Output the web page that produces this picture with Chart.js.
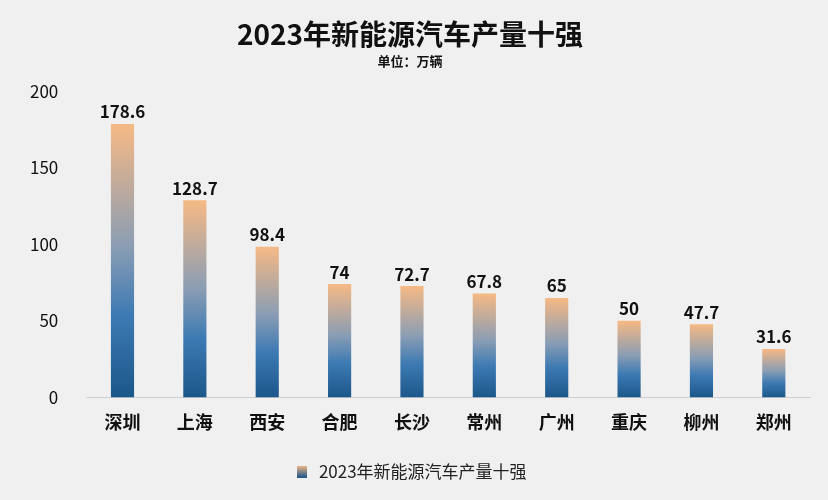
<!DOCTYPE html>
<html lang="zh">
<head>
<meta charset="UTF-8">
<script src="https://cdn.jsdelivr.net/npm/chart.js"></script>
<style>
    body { margin: 0; background: #f0f0f0; }
</style>
</head>
<body>
<canvas id="c" width="828" height="500"></canvas>
<script>
    const cities = ['深圳', '上海', '西安', '合肥', '长沙', '常州', '广州', '重庆', '柳州', '郑州'];
    const output = [178.6, 128.7, 98.4, 74, 72.7, 67.8, 65, 50, 47.7, 31.6];
    const FONT = '"Noto Sans CJK SC", "Noto Sans", sans-serif';

    // vertical gradient per bar, from its own top to its base
    function barGrad(ctx) {
        const el = ctx.chart.getDatasetMeta(0).data[ctx.dataIndex];
        if (!el || el.y === undefined || isNaN(el.y) || isNaN(el.base)) return '#5b8ab8';
        const g = ctx.chart.ctx.createLinearGradient(0, el.y, 0, el.base);
        g.addColorStop(0, '#f6b984');
        g.addColorStop(0.45, '#8a9db4');
        g.addColorStop(0.7, '#3d7ab3');
        g.addColorStop(1, '#1c578a');
        return g;
    }

    const labelPlugin = {
        id: 'labels',
        afterDatasetsDraw(chart) {
            const c = chart.ctx;
            c.save();
            c.font = 'bold 17px ' + FONT;
            c.fillStyle = '#111';
            c.textAlign = 'center';
            chart.getDatasetMeta(0).data.forEach((el, i) => {
                c.fillText(output[i], el.x, el.y - 12);
            });
            c.restore();
        }
    };

    const legendBox = document.createElement('canvas');
    legendBox.width = 10; legendBox.height = 12;
    const lc = legendBox.getContext('2d');
    const lg = lc.createLinearGradient(0, 0, 0, 12);
    lg.addColorStop(0, '#f6b984'); lg.addColorStop(1, '#1c578a');
    lc.fillStyle = lg; lc.fillRect(0, 0, 10, 12);

    const chart = new Chart(document.getElementById('c'), {
        type: 'bar',
        data: {
            labels: cities,
            datasets: [{
                label: '2023年新能源汽车产量十强',
                data: output,
                backgroundColor: barGrad,
                barPercentage: 0.32,
                categoryPercentage: 1
            }]
        },
        options: {
            responsive: false,
            animation: false,
            devicePixelRatio: 1,
            layout: { padding: { left: 10, right: 18, top: 10, bottom: 10 } },
            plugins: {
                title: {
                    display: true,
                    text: '2023年新能源汽车产量十强',
                    color: '#111',
                    font: { family: FONT, size: 28, weight: 'bold' },
                    padding: { top: 8, bottom: 2 }
                },
                subtitle: {
                    display: true,
                    text: '单位：万辆',
                    color: '#111',
                    font: { family: FONT, size: 13, weight: 'bold' },
                    padding: { bottom: 22 }
                },
                legend: {
                    position: 'bottom',
                    labels: {
                        usePointStyle: true,
                        pointStyle: legendBox,
                        color: '#222',
                        font: { family: FONT, size: 17 },
                        padding: 24
                    }
                },
                tooltip: { enabled: false }
            },
            scales: {
                x: {
                    grid: { display: false },
                    border: { color: '#cfcfcf' },
                    ticks: { color: '#111', font: { family: FONT, size: 18, weight: 'bold' }, padding: 6 }
                },
                y: {
                    min: 0, max: 200,
                    grid: { display: false },
                    border: { display: false },
                    ticks: { stepSize: 50, color: '#111', font: { family: FONT, size: 17 }, padding: 20 }
                }
            }
        },
        plugins: [labelPlugin]
    });
    // redraw so gradients use final bar positions
    chart.update();
</script>
</body>
</html>
